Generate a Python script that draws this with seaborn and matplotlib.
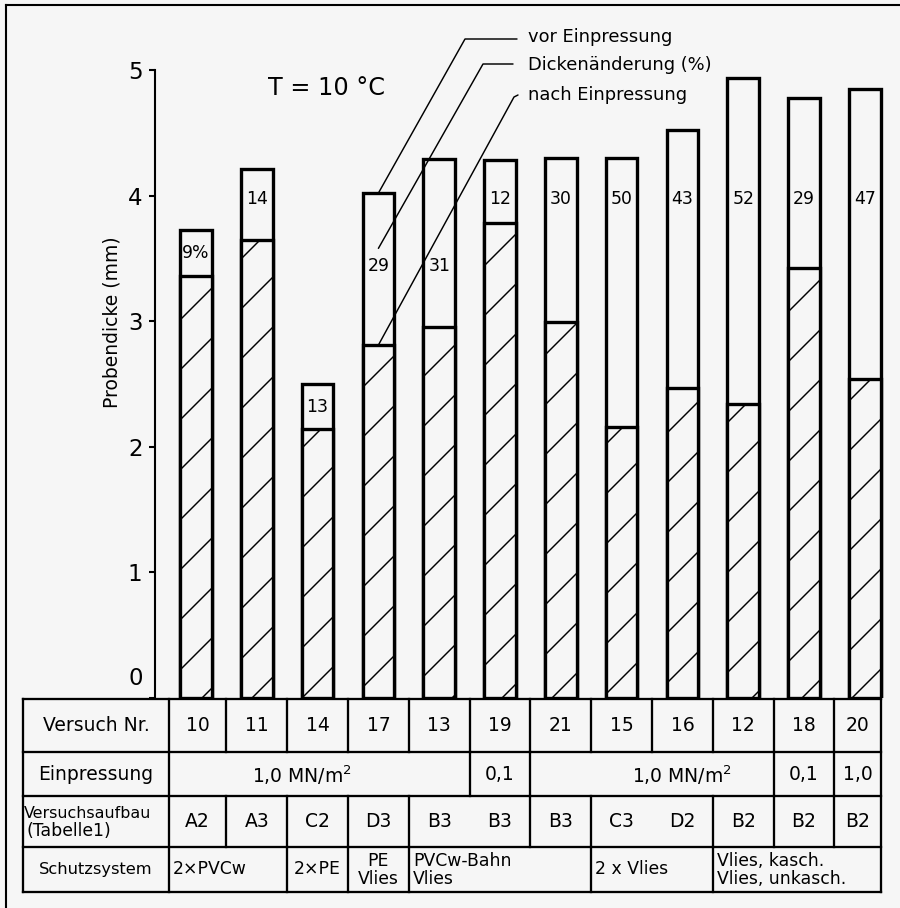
import matplotlib
matplotlib.use("Agg")
import matplotlib.pyplot as plt
import matplotlib.transforms as mtransforms
import seaborn as sns
import pandas as pd

# ---------------- data ----------------
versuch = ["10", "11", "14", "17", "13", "19", "21", "15", "16", "12", "18", "20"]
vor_einpressung = [3.73, 4.21, 2.50, 4.02, 4.29, 4.28, 4.30, 4.30, 4.52, 4.94, 4.78, 4.85]
nach_einpressung = [3.36, 3.65, 2.14, 2.81, 2.95, 3.78, 2.99, 2.16, 2.47, 2.34, 3.42, 2.54]
dickenaenderung = ["9%", "14", "13", "29", "31", "12", "30", "50", "43", "52", "29", "47"]
versuchsaufbau = ["A2", "A3", "C2", "D3", "B3", "B3", "B3", "C3", "D2", "B2", "B2", "B2"]
einpressung = ["1,0 MN/m$^2$", "0,1", "1,0 MN/m$^2$", "0,1", "1,0"]
einpressung_span = [(0, 4), (5, 5), (6, 9), (10, 10), (11, 11)]
schutzsystem = ["2×PVCw", "2×PE", "PE\nVlies", "PVCw-Bahn\nVlies", "2 x Vlies",
                "Vlies, kasch.\nVlies, unkasch."]
schutz_span = [(0, 1), (2, 2), (3, 3), (4, 6), (7, 8), (9, 11)]
aufbau_breaks = [0, 1, 2, 3, 5, 6, 8, 9, 10]   # cell borders after these columns
yticks = [0, 1, 2, 3, 4, 5]

# ---------------- style ----------------
sns.set_style("white")
plt.rcParams['font.family'] = ['DejaVu Sans']
plt.rcParams['hatch.linewidth'] = 0.7
plt.rcParams['hatch.color'] = 'black'
plt.rcParams['mathtext.default'] = 'regular'
for k in ['text.color', 'axes.labelcolor', 'xtick.color', 'ytick.color', 'axes.edgecolor']:
    plt.rcParams[k] = 'black'
BG = '#f6f6f6'
W, H = 900, 908
DPI = 150

fig = plt.figure(figsize=(W / DPI, H / DPI), dpi=DPI, facecolor=BG)
ax = fig.add_axes([155 / W, (H - 698) / H, (890 - 155) / W, (698 - 70) / H])
ax.set_facecolor('none')

df = pd.DataFrame({"Versuch": versuch, "vor": vor_einpressung, "nach": nach_einpressung})
sns.barplot(data=df, x="Versuch", y="vor", order=versuch, color=BG, saturation=1,
            edgecolor='black', linewidth=1.6, width=0.52, ax=ax)
sns.barplot(data=df, x="Versuch", y="nach", order=versuch, color=BG, saturation=1,
            edgecolor='black', linewidth=1.6, width=0.52, ax=ax)
for p in ax.patches[len(versuch):]:
    p.set_hatch('/')

ax.set_xlim((155 - 196) / 60.8, (890 - 196) / 60.8)
ax.set_ylim(0, 5)
for s in ['top', 'right', 'bottom']:
    ax.spines[s].set_visible(False)
ax.spines['left'].set_linewidth(1.0)
ax.spines['left'].set_color('black')
ax.set_xticks([])
ax.set_xlabel("")
ax.set_ylabel("")
ax.set_yticks(yticks)
ax.set_yticklabels([str(v) for v in yticks], fontsize=11)
ax.tick_params(axis='y', length=3, width=1, pad=3, direction='out', colors='black', left=True)
lab0 = ax.get_yticklabels()[0]
lab0.set_va('bottom')
lab0.set_transform(lab0.get_transform() + mtransforms.ScaledTranslation(0, 4 / 72, fig.dpi_scale_trans))

# percent labels
label_y = []
for i, (v, n) in enumerate(zip(vor_einpressung, nach_einpressung)):
    y = 3.97 if v > 4.1 else (v + n) / 2
    if i in (3, 4):
        y = 3.44
    label_y.append(y)
    ax.text(i, y, dickenaenderung[i], ha='center', va='center', fontsize=8.3, color='black')

# ---------------- overlay (frame, table, annotations) ----------------
ov = fig.add_axes([0, 0, 1, 1], zorder=5)
ov.set_xlim(0, W)
ov.set_ylim(H, 0)
ov.axis('off')
ov.patch.set_alpha(0)


def to_px(x, y):
    d = ax.transData.transform((x, y))
    return d[0], H - d[1]


lk = dict(color='black', lw=1.0, solid_capstyle='projecting')
# outer frame (top and left visible)
ov.plot([6, 6], [5, H], **lk)
ov.plot([6, W], [5, 5], **lk)

# table
tx0, tfirst, tx1 = 23, 169, 881
rows_y = [699, 752, 796, 847, 892]
col_b = [to_px(i + 0.5, 0)[0] for i in range(11)]
bounds = [tfirst] + col_b + [tx1]
col_c = [(bounds[i] + bounds[i + 1]) / 2 for i in range(12)]
lt = dict(color='black', lw=1.1, solid_capstyle='projecting')
for y in rows_y:
    ov.plot([tx0, tx1], [y, y], **lt)
for x in (tx0, tfirst, tx1):
    ov.plot([x, x], [rows_y[0], rows_y[-1]], **lt)


def edges_of(spans):
    return [b for (a, b) in spans[:-1]]


row_breaks = [list(range(11)), edges_of(einpressung_span), aufbau_breaks, edges_of(schutz_span)]
for r, brks in enumerate(row_breaks):
    for b in brks:
        ov.plot([col_b[b], col_b[b]], [rows_y[r], rows_y[r + 1]], **lt)

fs = 9
rc = [(rows_y[k] + rows_y[k + 1]) / 2 for k in range(4)]
ov.text(96, rc[0], "Versuch Nr.", ha='center', va='center', fontsize=fs)
for i, v in enumerate(versuch):
    ov.text(col_c[i], rc[0], v, ha='center', va='center', fontsize=fs)

ov.text(96, rc[1], "Einpressung", ha='center', va='center', fontsize=fs)
einp_x = [1.75, 5.0, 8.0, 10.0, 11.0]
for t, xc in zip(einpressung, einp_x):
    xp = col_c[int(xc)] if float(xc).is_integer() else to_px(xc, 0)[0]
    ov.text(xp, rc[1] + 1, t, ha='center', va='center', fontsize=fs)

ov.text(24, 813, "Versuchsaufbau", ha='left', va='center', fontsize=7.6)
ov.text(26, 831, "(Tabelle1)", ha='left', va='center', fontsize=8.3)
for i, v in enumerate(versuchsaufbau):
    ov.text(col_c[i], rc[2], v, ha='center', va='center', fontsize=fs)

ov.text(96, rc[3], "Schutzsystem", ha='center', va='center', fontsize=7.8)
for t, (a, b) in zip(schutzsystem, schutz_span):
    left = bounds[a]
    right = bounds[b + 1]
    if a == b:
        ov.text((left + right) / 2, rc[3], t, ha='center', va='center', fontsize=8.3, linespacing=1.0)
    else:
        ov.text(left + 4, rc[3], t, ha='left', va='center', fontsize=8.3, linespacing=1.0)

# annotation lines / legend texts
la = dict(color='black', lw=0.7)
p_vor = to_px(3, vor_einpressung[3])
p_dic = to_px(3, label_y[3] + 0.14)
p_nach = to_px(3, nach_einpressung[3])
ov.plot([517, 465, p_vor[0]], [39, 39, p_vor[1]], **la)
ov.plot([513, 483, p_dic[0]], [64, 64, p_dic[1]], **la)
ov.plot([518, 514, p_nach[0]], [95, 97, p_nach[1]], **la)
ov.text(528, 37, "vor Einpressung", ha='left', va='center', fontsize=8.6)
ov.text(528, 65, "Dickenänderung (%)", ha='left', va='center', fontsize=8.6)
ov.text(528, 95, "nach Einpressung", ha='left', va='center', fontsize=8.6)
ov.text(327, 88, "T = 10 °C", ha='center', va='center', fontsize=11.5)
ov.text(112, 322, "Probendicke (mm)", ha='center', va='center', rotation=90, fontsize=9)

fig.savefig("out.png", dpi=DPI, facecolor=BG)
